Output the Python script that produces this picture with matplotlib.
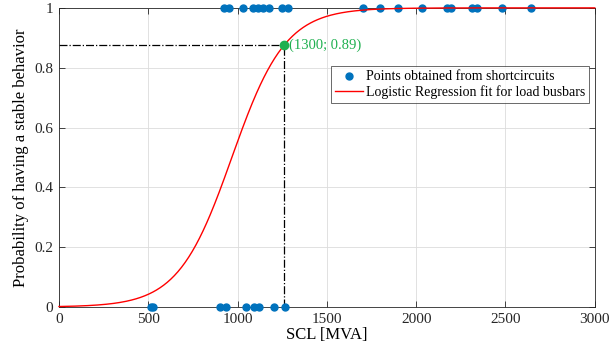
import numpy as np
import matplotlib
matplotlib.use("Agg")
import matplotlib.pyplot as plt

plt.rcParams['font.family'] = ['Liberation Serif', 'DejaVu Serif']
plt.rcParams['mathtext.fontset'] = 'stix'

# short-circuit levels [MVA] where the case was stable (1) / unstable (0)
scl_stable = [925, 953, 1032, 1088, 1116, 1144, 1178, 1251, 1284,
              1703, 1800, 1901, 2034, 2170, 2195, 2310, 2340, 2483, 2645]
scl_unstable = [516, 528, 903, 937, 1049, 1094, 1122, 1206, 1268]

# logistic fit parameters
fit_mid = 968.0
fit_slope = 0.00666

# marked operating point
pt_x = 1262
pt_y = 0.876
pt_label = '(1300; 0.89)'

fig = plt.figure(figsize=(6.1, 3.58), dpi=100)
ax = fig.add_axes([0.0967, 0.1425, 0.8783, 0.8355])

x = np.linspace(0, 3000, 600)
p = 1.0 / (1.0 + np.exp(-fit_slope * (x - fit_mid)))

ax.plot([0, pt_x], [pt_y, pt_y], color='black', lw=0.9, ls='-.', zorder=2)
ax.plot([pt_x, pt_x], [0, pt_y], color='black', lw=0.9, ls='-.', zorder=2)

ax.plot(scl_stable, np.ones(len(scl_stable)), 'o', color='#0072BD', ms=5,
        label='Points obtained from shortcircuits', zorder=3, clip_on=False)
ax.plot(scl_unstable, np.zeros(len(scl_unstable)), 'o', color='#0072BD', ms=5,
        zorder=3, clip_on=False)
ax.plot(x, p, color='red', lw=1.0, label='Logistic Regression fit for load busbars',
        zorder=4, clip_on=False)

ax.plot(pt_x, pt_y, 'o', color='#1fb050', ms=6, zorder=5)
ax.text(pt_x + 25, pt_y, pt_label, color='#1fb050', fontsize=10.5,
        va='center', ha='left')

ax.set_xlim(0, 3000)
ax.set_ylim(0, 1)
ax.set_xticks(np.arange(0, 3001, 500))
ax.set_yticks([0, 0.2, 0.4, 0.6, 0.8, 1])
ax.set_yticklabels(['0', '0.2', '0.4', '0.6', '0.8', '1'])
ax.tick_params(direction='in', length=4, width=0.6, labelsize=11,
               top=True, right=True, colors='#262626', pad=4)
ax.grid(True, color='#dcdcdc', lw=0.6)
for s in ax.spines.values():
    s.set_color('#262626')
    s.set_linewidth(0.6)

ax.set_xlabel('SCL [MVA]', fontsize=12, labelpad=1)
ax.set_ylabel('Probability of having a stable behavior', fontsize=12, labelpad=4)

leg = ax.legend(loc='upper right', bbox_to_anchor=(0.99, 0.805), fontsize=10,
                frameon=True, fancybox=False, handlelength=2.0,
                handletextpad=0.2, borderpad=0.3, labelspacing=0.1,
                borderaxespad=0)
leg.get_frame().set_edgecolor('#262626')
leg.get_frame().set_linewidth(0.6)

fig.savefig('out.png', dpi=100)
